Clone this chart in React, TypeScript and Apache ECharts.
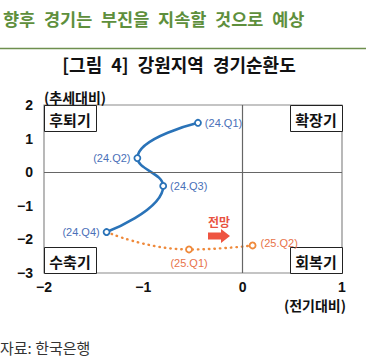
import React, { useEffect, useRef } from "react";
import * as echarts from "echarts";

const actualNames = ["24.Q1", "24.Q2", "24.Q3", "24.Q4"];
const actualX = [-0.45, -1.06, -0.8, -1.37];
const actualY = [1.47, 0.42, -0.41, -1.78];
const actualLabelPos = ["right", "left", "right", "left"];

const forecastNames = ["24.Q4", "25.Q1", "25.Q2"];
const forecastX = [-1.37, -0.54, 0.1];
const forecastY = [-1.78, -2.3, -2.18];
const forecastLabelPos = ["left", "bottom", "right"];

const xTicks = [-2, -1, 0, 1];
const yTicks = [-3, -2, -1, 0, 1, 2];

const quadrants = [
  { text: "후퇴기", corner: "tl" },
  { text: "확장기", corner: "tr" },
  { text: "수축기", corner: "bl" },
  { text: "회복기", corner: "br" },
];

const FONT = "'Noto Sans CJK KR', 'Noto Sans', sans-serif";
const NUMFONT = "'Liberation Sans', Arial, sans-serif";
const SP = "\u2002";

export default function App() {
  const ref = useRef<HTMLDivElement>(null);
  useEffect(() => {
    if (!ref.current) return;
    const chart = echarts.init(ref.current, null, { renderer: "svg" });
    const gl = 44, gt = 105, gw = 298, gh = 168;
    const bw = 52, bh = 26;
    const boxes: any[] = [];
    quadrants.forEach((q) => {
      const x = q.corner[1] === "l" ? gl : gl + gw - bw;
      const y = q.corner[0] === "t" ? gt : gt + gh - bh;
      boxes.push({
        type: "rect",
        shape: { x: x + 0.5, y: y + 0.5, width: bw, height: bh },
        style: { fill: "#fff", stroke: "#222", lineWidth: 1 },
        z: 1,
      });
      boxes.push({
        type: "text",
        x: x + bw / 2,
        y: y + bh / 2 + 1,
        style: {
          text: q.text,
          font: `bold 15px ${FONT}`,
          fill: "#111",
          textAlign: "center",
          textVerticalAlign: "middle",
        },
        z: 2,
      });
    });

    const minus = (v: number) => String(v).replace("-", "−");

    const option: any = {
      animation: false,
      grid: {
        left: gl,
        top: gt,
        width: gw,
        height: gh,
        show: true,
        borderColor: "#8a8a8a",
        borderWidth: 1.2,
      },
      xAxis: {
        type: "value",
        min: xTicks[0],
        max: xTicks[xTicks.length - 1],
        interval: 1,
        axisLine: { show: false },
        axisTick: { show: false },
        splitLine: { show: false },
        axisLabel: {
          margin: 7,
          fontFamily: NUMFONT,
          fontWeight: "bold",
          fontSize: 14,
          color: "#111",
          formatter: minus,
        },
      },
      yAxis: {
        type: "value",
        min: yTicks[0],
        max: yTicks[yTicks.length - 1],
        interval: 1,
        axisLine: { show: false },
        axisTick: { show: false },
        splitLine: { show: false },
        axisLabel: {
          margin: 11,
          fontFamily: NUMFONT,
          fontWeight: "bold",
          fontSize: 14,
          color: "#111",
          formatter: minus,
        },
      },
      series: [
        {
          type: "line",
          smooth: 0.5,
          data: forecastX.map((x, i) => ({
            value: [x, forecastY[i]],
            name: forecastNames[i],
            symbol: i === 0 ? "none" : "circle",
            label: {
              show: i > 0,
              position: forecastLabelPos[i],
              distance: 4,
              offset: i === 2 ? [0, -2] : [0, 0],
            },
          })),
          symbolSize: 6,
          showAllSymbol: true,
          lineStyle: { color: "#ef8a3c", width: 2.4, type: [0.5, 5], cap: "round" },
          itemStyle: { color: "#fff", borderColor: "#ef8a3c", borderWidth: 1.8 },
          label: {
            formatter: (p: any) => `(${p.name})`,
            color: "#e8734a",
            fontSize: 11,
            fontFamily: NUMFONT,
          },
          z: 3,
        },
        {
          type: "line",
          smooth: 0.5,
          data: actualX.map((x, i) => ({
            value: [x, actualY[i]],
            name: actualNames[i],
            label: { position: actualLabelPos[i], distance: 3 },
          })),
          symbol: "circle",
          symbolSize: 6,
          showAllSymbol: true,
          lineStyle: { color: "#2a73b8", width: 2.6 },
          itemStyle: { color: "#fff", borderColor: "#2a73b8", borderWidth: 1.8 },
          label: {
            show: true,
            formatter: (p: any) => `(${p.name})`,
            color: "#4a70b8",
            fontSize: 11,
            fontFamily: NUMFONT,
          },
          markLine: {
            silent: true,
            symbol: "none",
            label: { show: false },
            lineStyle: { color: "#666", width: 1.2, type: "solid" },
            data: [{ xAxis: 0 }, { yAxis: 0 }],
          },
          z: 4,
        },
      ],
      graphic: [
        {
          type: "text",
          x: 3,
          y: 18,
          style: {
            text: ["향후", "경기는", "부진을", "지속할", "것으로", "예상"].join(SP),
            font: `bold 17.5px ${FONT}`,
            fill: "#5e8f3c",
            textVerticalAlign: "middle",
          },
        },
        {
          type: "line",
          shape: { x1: 0, y1: 48.5, x2: 366, y2: 48.5 },
          style: { stroke: "#6e8f4e", lineWidth: 1.5 },
        },
        {
          type: "text",
          x: 179,
          y: 64,
          style: {
            text: ["[그림", "4]", "강원지역", "경기순환도"].join(SP),
            font: `bold 18px ${FONT}`,
            fill: "#111",
            textAlign: "center",
            textVerticalAlign: "middle",
          },
        },
        {
          type: "text",
          x: 44,
          y: 97,
          style: {
            text: "(추세대비)",
            font: `bold 14px ${FONT}`,
            fill: "#111",
            textVerticalAlign: "middle",
          },
        },
        {
          type: "text",
          x: 346,
          y: 305,
          style: {
            text: "(전기대비)",
            font: `bold 14px ${FONT}`,
            fill: "#111",
            textAlign: "right",
            textVerticalAlign: "middle",
          },
        },
        {
          type: "text",
          x: 0,
          y: 347,
          style: {
            text: "자료: 한국은행",
            font: `15px ${FONT}`,
            fill: "#333",
            textVerticalAlign: "middle",
          },
        },
        {
          type: "text",
          x: 219,
          y: 221,
          style: {
            text: "전망",
            font: `bold 12px ${FONT}`,
            fill: "#e8523f",
            textAlign: "center",
            textVerticalAlign: "middle",
          },
        },
        {
          type: "polygon",
          shape: {
            points: [
              [208, 232.5],
              [221, 232.5],
              [221, 229],
              [230, 236],
              [221, 243],
              [221, 239.5],
              [208, 239.5],
            ],
          },
          style: { fill: "#ee5441" },
        },
        ...boxes,
      ],
    };
    chart.setOption(option);
    return () => chart.dispose();
  }, []);
  return (
    <div
      ref={ref}
      style={{ position: "fixed", left: 0, top: 0, width: 382, height: 364, background: "#fff" }}
    />
  );
}
